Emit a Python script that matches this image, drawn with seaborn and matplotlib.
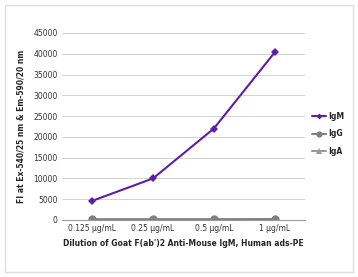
import numpy as np
import pandas as pd
import matplotlib
matplotlib.use('Agg')
import matplotlib.pyplot as plt
import seaborn as sns

dilutions = ['0.125 µg/mL', '0.25 µg/mL', '0.5 µg/mL', '1 µg/mL']
igm = [4600, 10000, 22000, 40300]
igg = [150, 150, 150, 200]
iga = [100, 100, 100, 150]

series_names = ['IgM', 'IgG', 'IgA']
colors = {'IgM': '#5a1fa6', 'IgG': '#808080', 'IgA': '#9a9a9a'}
markers = {'IgM': 'D', 'IgG': 'o', 'IgA': '^'}

rows = []
for name, vals in zip(series_names, [igm, igg, iga]):
    for i, v in enumerate(vals):
        rows.append({'pos': i, 'dilution': dilutions[i], 'series': name, 'FI': v})
df = pd.DataFrame(rows)

sns.set_style('white')
plt.rcParams['font.family'] = ['DejaVu Sans']

fig = plt.figure(figsize=(3.58, 2.77), dpi=100)
ax = fig.add_axes([0.173, 0.206, 0.679, 0.675])

# gray frame round the whole picture
fig.patches.append(plt.Rectangle((0.014, 0.018), 0.972, 0.964, transform=fig.transFigure,
                                 fill=False, edgecolor='#dddddd', linewidth=1.0))

sizes = {'IgM': 4, 'IgG': 6, 'IgA': 5}
for name in ['IgA', 'IgG', 'IgM']:
    sub = df[df['series'] == name]
    sns.lineplot(data=sub, x='pos', y='FI', ax=ax, color=colors[name],
                 marker=markers[name], markersize=sizes[name], markeredgewidth=0,
                 linewidth=1.5, label=name, zorder=3 if name == 'IgM' else 2)

ax.set_xlim(-0.5, 3.5)
ax.set_ylim(0, 45000)
ax.set_yticks(np.arange(0, 45001, 5000))
ax.set_xticks(range(len(dilutions)))
ax.set_xticklabels(dilutions)
ax.tick_params(axis='both', labelsize=5.5, colors='#333333', length=0, pad=3)
ax.yaxis.grid(True, color='#cccccc', linewidth=0.6)
for s in ['top', 'right', 'left']:
    ax.spines[s].set_visible(False)
ax.spines['bottom'].set_color('#999999')
ax.spines['bottom'].set_linewidth(0.8)

ax.set_xlabel("Dilution of Goat F(ab')2 Anti-Mouse IgM, Human ads-PE",
              fontsize=5.5, fontweight='bold', labelpad=4)
ax.set_ylabel('FI at Ex-540/25 nm & Em-590/20 nm', fontsize=5.5,
              fontweight='bold', labelpad=6)

handles, labels = ax.get_legend_handles_labels()
order = [labels.index(n) for n in series_names]
ax.legend([handles[i] for i in order], [labels[i] for i in order],
          loc='center left', bbox_to_anchor=(1.0, 0.46), frameon=False,
          prop={'size': 5.5, 'weight': 'bold'}, handlelength=1.8,
          handletextpad=0.3, labelspacing=1.1, markerscale=0.75)

fig.savefig('out.png', dpi=100)
